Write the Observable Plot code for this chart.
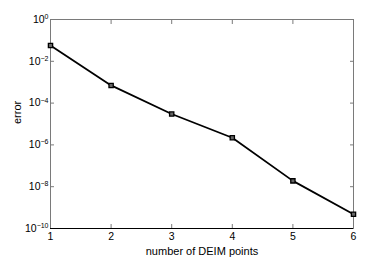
<!DOCTYPE html>
<html>
<head>
<meta charset="utf-8">
<script src="https://cdn.jsdelivr.net/npm/d3@7"></script>
<script src="https://cdn.jsdelivr.net/npm/@observablehq/plot@0.6"></script>
<style>
body{margin:0;background:#fff;}
#c{width:390px;height:257px;}
</style>
</head>
<body>
<div id="c"></div>
<script>
const points = [1, 2, 3, 4, 5, 6];
const errors = [5.7e-2, 7.0e-4, 3.0e-5, 2.2e-6, 1.9e-8, 4.8e-10];
const xTicks = [1, 2, 3, 4, 5, 6];
const yTicks = [1, 1e-2, 1e-4, 1e-6, 1e-8, 1e-10];

const expOf = d => Math.round(Math.log10(d));
const data = points.map((p, i) => ({p, e: errors[i]}));
const grey = "#7a7a7a";

const chart = Plot.plot({
  width: 390,
  height: 257,
  marginLeft: 50,
  marginRight: 37,
  marginTop: 19,
  marginBottom: 29,
  style: {fontFamily: "'Liberation Sans', Arial, sans-serif", fontSize: "10.5px", color: "#000", background: "#fff"},
  x: {domain: [1, 6]},
  y: {type: "log", domain: [1e-10, 1]},
  marks: [
    Plot.frame({stroke: grey}),
    Plot.axisX(xTicks, {anchor: "bottom", tickSize: -4, stroke: grey, tickPadding: 8, label: null, tickFormat: d => String(d), fill: "#000"}),
    Plot.axisX(xTicks, {anchor: "top", tickSize: -4, stroke: grey, label: null, tickFormat: () => ""}),
    Plot.axisY(yTicks, {anchor: "left", tickSize: -4, stroke: grey, tickPadding: 6, label: null, tickFormat: d => "10^" + expOf(d), fill: "#000"}),
    Plot.axisY(yTicks, {anchor: "right", tickSize: -4, stroke: grey, label: null, tickFormat: () => ""}),
    Plot.ruleY([1e-10], {stroke: "#000"}),
    Plot.line(data, {x: "p", y: "e", stroke: "#000", strokeWidth: 1.8}),
    Plot.dot(data, {x: "p", y: "e", symbol: "square", r: 2.4, stroke: "#000", strokeWidth: 1.3, fill: "#666"}),
    Plot.text(["number of DEIM points"], {frameAnchor: "bottom", dy: 26, fill: "#000", fontSize: 11}),
    Plot.text(["error"], {frameAnchor: "left", dx: -33, rotate: -90, fill: "#000", fontSize: 11})
  ]
});
// render exponents as real superscript tspans
chart.querySelectorAll('g[aria-label="y-axis tick label"] text').forEach(t => {
  const s = t.textContent;
  if (!s.startsWith("10^")) return;
  const e = s.slice(3).replace("-", "\u2212");
  t.textContent = "";
  const base = document.createElementNS("http://www.w3.org/2000/svg", "tspan");
  base.textContent = "10";
  const sp = document.createElementNS("http://www.w3.org/2000/svg", "tspan");
  sp.setAttribute("dy", "-0.55em");
  sp.setAttribute("font-size", "7px");
  sp.textContent = e;
  t.appendChild(base);
  t.appendChild(sp);
});
document.getElementById("c").appendChild(chart);
</script>
</body>
</html>
